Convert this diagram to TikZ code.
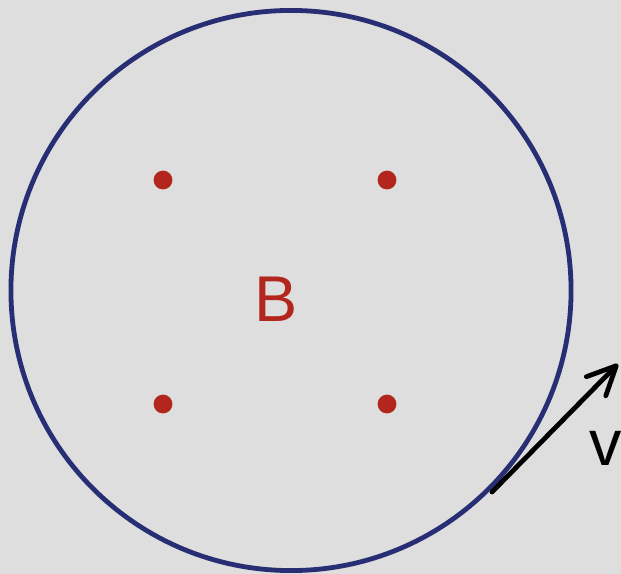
\documentclass[tikz,border=0pt]{standalone}
\usepackage{fontspec}
\setmainfont{Liberation Sans}
\usetikzlibrary{arrows.meta, positioning}
\definecolor{bgGray}{HTML}{DEDEDE}
\definecolor{ringBlue}{HTML}{282E73}
\definecolor{dotRed}{HTML}{B3261E}

\begin{document}
\begin{tikzpicture}[x=0.025cm, y=-0.025cm]
        \tikzstyle{ring} = [draw=ringBlue, line width=0.12cm]
        \tikzstyle{charge} = [circle, fill=dotRed, inner sep=0pt, minimum size=0.47cm]
        \tikzstyle{letter} = [inner sep=0pt, anchor=base, font=\fontsize{46}{46}\selectfont]
        \tikzstyle{arrow} = [line width=0.12cm, line cap=round, -{Straight Barb[round, length=0.72cm, width=0.68cm, line width=0.12cm]}]

        \fill [bgGray] (0,0) rectangle (621,574);
        \useasboundingbox (0,0) rectangle (621,574);

        \draw [ring] (291,290.5) circle [radius=7cm];

        \node (q1) [charge] at (163,180) {};
        \node (q2) [charge] at (387,180) {};
        \node (q3) [charge] at (163,404) {};
        \node (q4) [charge] at (387,404) {};

        \node (field) [letter, text=dotRed] at (276.5,321) {B};
        \node (vel) [letter, text=black] at (605.5,465) {v};

        \coordinate (vtail) at (492,492);
        \coordinate (vtip) at (618,364);
        \draw [arrow] (vtail) -- (vtip);
    \end{tikzpicture}
\end{document}
